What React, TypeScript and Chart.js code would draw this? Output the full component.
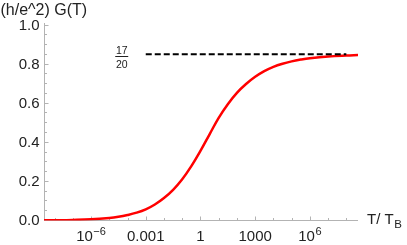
import React, { useEffect, useRef } from 'react';
import { Chart, registerables } from 'chart.js';

Chart.register(...registerables);

// Red curve: log10(T/T_B) and (h/e^2) G(T)
const curveExp = [-8.58, -8, -7, -6, -5, -4.5, -4, -3.5, -3, -2.5, -2, -1.5, -1, -0.5, 0, 0.5, 1, 1.5, 2, 2.5, 3, 3.5, 4, 4.5, 5, 5.5, 6, 7, 8, 8.64];
const curveG = [0.001, 0.0015, 0.003, 0.006, 0.013, 0.019, 0.028, 0.04, 0.057, 0.082, 0.115, 0.157, 0.211, 0.278, 0.356, 0.441, 0.525, 0.595, 0.653, 0.698, 0.735, 0.764, 0.786, 0.802, 0.814, 0.823, 0.83, 0.839, 0.844, 0.846];

// Dashed plateau line at 17/20
const plateauExp = [-3, 8];
const plateauG = [0.85, 0.85];
const plateauNum = '17';
const plateauDen = '20';

// Axes
const xRangeExp = [-8.58, 8.64];
const yRange = [0, 1];
const yTicks = [0, 0.2, 0.4, 0.6, 0.8, 1.0];
const yTickLabels = ['0.0', '0.2', '0.4', '0.6', '0.8', '1.0'];
const yMinorTicks = [0.05, 0.1, 0.15, 0.25, 0.3, 0.35, 0.45, 0.5, 0.55, 0.65, 0.7, 0.75, 0.85, 0.9, 0.95];
const xMajorExp = [-6, -3, 0, 3, 6];
const xTickBase = ['10', '0.001', '1', '1000', '10'];
const xTickSup = ['\u22126', '', '', '', '6'];
const xMinorExp = [-8, -7, -5, -4, -2, -1, 1, 2, 4, 5, 7, 8];
const yTitle = '(h/e^2) G(T)';
const xTitleMain = 'T/ T';
const xTitleSub = 'B';

const FONT = "'Liberation Sans', Arial, Helvetica, sans-serif";
const AXIS = '#b3b3b3';
const TEXT = '#222222';

const axesPlugin = {
  id: 'mmaAxes',
  beforeDatasetsDraw(chart: any) {
    const { ctx, chartArea, scales } = chart;
    const xs = scales.x;
    const ys = scales.y;
    const y0 = Math.floor(ys.getPixelForValue(0)) + 0.5;
    const x0 = Math.floor(chartArea.left) + 0.5;
    ctx.save();
    ctx.strokeStyle = AXIS;
    ctx.lineWidth = 1;
    ctx.beginPath();
    ctx.moveTo(chartArea.left, y0);
    ctx.lineTo(chartArea.right, y0);
    ctx.moveTo(x0, y0);
    ctx.lineTo(x0, ys.getPixelForValue(1) - 2);
    xMajorExp.forEach((e) => {
      const px = Math.round(xs.getPixelForValue(Math.pow(10, e))) + 0.5;
      ctx.moveTo(px, y0);
      ctx.lineTo(px, y0 - 4);
    });
    xMinorExp.forEach((e) => {
      const px = Math.round(xs.getPixelForValue(Math.pow(10, e))) + 0.5;
      ctx.moveTo(px, y0);
      ctx.lineTo(px, y0 - 2.5);
    });
    yTicks.forEach((v) => {
      const py = Math.floor(ys.getPixelForValue(v)) + 0.5;
      ctx.moveTo(x0, py);
      ctx.lineTo(x0 + 4, py);
    });
    yMinorTicks.forEach((v) => {
      const py = Math.floor(ys.getPixelForValue(v)) + 0.5;
      ctx.moveTo(x0, py);
      ctx.lineTo(x0 + 2.5, py);
    });
    ctx.stroke();
    ctx.restore();
  },
  afterDraw(chart: any) {
    const { ctx, chartArea, scales } = chart;
    const xs = scales.x;
    const ys = scales.y;
    const y0 = ys.getPixelForValue(0);
    ctx.save();
    ctx.fillStyle = TEXT;
    ctx.font = `15px ${FONT}`;
    ctx.textAlign = 'right';
    ctx.textBaseline = 'middle';
    yTicks.forEach((v, i) => {
      ctx.fillText(yTickLabels[i], chartArea.left - 4.5, ys.getPixelForValue(v) + 0.5);
    });
    ctx.textAlign = 'left';
    ctx.textBaseline = 'alphabetic';
    xMajorExp.forEach((e, i) => {
      const cx = xs.getPixelForValue(Math.pow(10, e));
      ctx.font = `15px ${FONT}`;
      const w1 = ctx.measureText(xTickBase[i]).width;
      ctx.font = `11px ${FONT}`;
      const w2 = xTickSup[i] ? ctx.measureText(xTickSup[i]).width + 0.5 : 0;
      const sx = cx - (w1 + w2) / 2;
      ctx.font = `15px ${FONT}`;
      ctx.fillText(xTickBase[i], sx, y0 + 20.5);
      if (xTickSup[i]) {
        ctx.font = `11px ${FONT}`;
        ctx.fillText(xTickSup[i], sx + w1 + 0.5, y0 + 14);
      }
    });
    ctx.font = `16px ${FONT}`;
    ctx.fillText(yTitle, 0.5, 14.5);
    ctx.font = `15px ${FONT}`;
    const tx = chartArea.right + 9;
    ctx.fillText(xTitleMain, tx, y0 + 3);
    const tw = ctx.measureText(xTitleMain).width;
    ctx.font = `11.5px ${FONT}`;
    ctx.fillText(xTitleSub, tx + tw + 0.5, y0 + 7);
    const fx = xs.getPixelForValue(Math.pow(10, plateauExp[0])) - 24;
    const fy = ys.getPixelForValue(plateauG[0]);
    ctx.font = `10.5px ${FONT}`;
    ctx.textAlign = 'center';
    ctx.fillText(plateauNum, fx, fy - 0.5);
    ctx.fillText(plateauDen, fx, fy + 14);
    ctx.strokeStyle = TEXT;
    ctx.lineWidth = 1;
    ctx.beginPath();
    ctx.moveTo(fx - 6.5, Math.floor(fy + 2.5) + 0.5);
    ctx.lineTo(fx + 6.5, Math.floor(fy + 2.5) + 0.5);
    ctx.stroke();
    ctx.restore();
  },
};

export default function App() {
  const canvasRef = useRef<HTMLCanvasElement | null>(null);

  useEffect(() => {
    const canvas = canvasRef.current;
    if (!canvas) return;
    const curveData = curveExp.map((e, i) => ({ x: Math.pow(10, e), y: curveG[i] }));
    const plateauData = plateauExp.map((e, i) => ({ x: Math.pow(10, e), y: plateauG[i] }));
    const chart = new Chart(canvas, {
      type: 'line',
      data: {
        datasets: [
          {
            data: plateauData,
            borderColor: '#000000',
            borderWidth: 2,
            borderDash: [6, 3],
            pointRadius: 0,
            fill: false,
          },
          {
            data: curveData,
            borderColor: '#ff0000',
            borderWidth: 2.5,
            pointRadius: 0,
            fill: false,
            tension: 0.4,
          },
        ],
      },
      options: {
        animation: false,
        responsive: false,
        maintainAspectRatio: false,
        layout: { padding: { left: 44, right: 49, top: 25, bottom: 24.5 } },
        scales: {
          x: {
            type: 'logarithmic',
            display: false,
            min: Math.pow(10, xRangeExp[0]),
            max: Math.pow(10, xRangeExp[1]),
          },
          y: {
            type: 'linear',
            display: false,
            min: yRange[0],
            max: yRange[1],
          },
        },
        plugins: {
          legend: { display: false },
          tooltip: { enabled: false },
        },
      },
      plugins: [axesPlugin],
    } as any);
    return () => chart.destroy();
  }, []);

  return (
    <div style={{ position: 'absolute', left: 0, top: 0, width: 407, height: 245, background: '#ffffff' }}>
      <canvas ref={canvasRef} width={407} height={245} style={{ display: 'block' }} />
    </div>
  );
}
